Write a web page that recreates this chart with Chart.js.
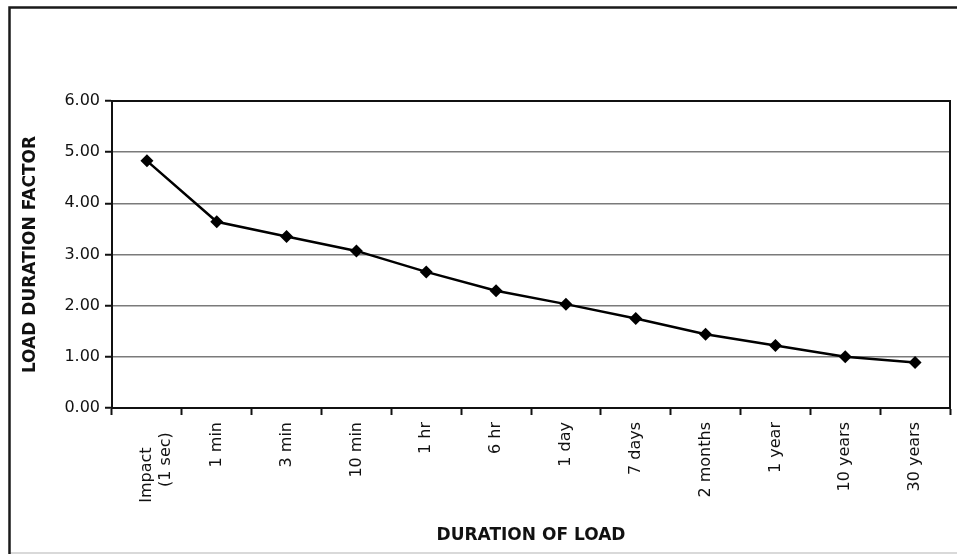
<!DOCTYPE html>
<html>
<head>
<meta charset="utf-8">
<script src="https://cdn.jsdelivr.net/npm/chart.js@4"></script>
<style>
  html, body { margin: 0; padding: 0; background: #fff; }
  #wrap { position: relative; width: 957px; height: 554px; }
</style>
</head>
<body>
<div id="wrap"><canvas id="chart" width="957" height="554"></canvas></div>
<script>
// Dati
const durations = [['Impact     ', '(1 sec)  '], '1 min', '3 min', '10 min', '1 hr', '6 hr', '1 day', '7 days', '2 months', '1 year', '10 years', '30 years'];
const loadFactors = [4.83, 3.64, 3.35, 3.07, 2.66, 2.29, 2.03, 1.75, 1.44, 1.22, 1.00, 0.89];
const yTicks = [0, 1, 2, 3, 4, 5, 6];

const FONT = 'DejaVu Sans';

// Cornice esterna e bordo dell'area del grafico
const framePlugin = {
  id: 'frame',
  beforeDraw(chart) {
    const ctx = chart.ctx;
    ctx.save();
    ctx.strokeStyle = '#d9d9d9';
    ctx.lineWidth = 2;
    ctx.beginPath();
    ctx.moveTo(9, 553);
    ctx.lineTo(957, 553);
    ctx.stroke();
    ctx.strokeStyle = '#1a1a1a';
    ctx.lineWidth = 2.5;
    ctx.beginPath();
    ctx.moveTo(9.5, 554);
    ctx.lineTo(9.5, 7.5);
    ctx.lineTo(957, 7.5);
    ctx.stroke();
    ctx.restore();
  },
  afterDatasetsDraw(chart) {
    const a = chart.chartArea;
    const ctx = chart.ctx;
    ctx.save();
    ctx.strokeStyle = '#111';
    ctx.lineWidth = 2;
    ctx.beginPath();
    ctx.moveTo(a.left, a.top);
    ctx.lineTo(a.right, a.top);
    ctx.lineTo(a.right, a.bottom);
    ctx.stroke();
    ctx.restore();
  }
};

new Chart(document.getElementById('chart'), {
  type: 'line',
  data: {
    labels: durations,
    datasets: [{
      data: loadFactors,
      borderColor: '#000',
      borderWidth: 2.5,
      backgroundColor: '#000',
      pointStyle: 'rectRot',
      pointRadius: 6.5,
      pointBorderWidth: 0,
      tension: 0,
      fill: false
    }]
  },
  options: {
    responsive: false,
    animation: false,
    layout: { padding: { left: 20, top: 101, right: 7, bottom: 8 } },
    plugins: {
      legend: { display: false },
      tooltip: { enabled: false }
    },
    scales: {
      x: {
        type: 'category',
        offset: true,
        grid: {
          offset: true,
          drawOnChartArea: false,
          drawTicks: true,
          tickLength: 7,
          tickColor: '#111',
          tickWidth: 2
        },
        border: { color: '#111', width: 2 },
        ticks: {
          color: '#111',
          font: { family: FONT, size: 16 },
          minRotation: 90,
          maxRotation: 90,
          autoSkip: false,
          padding: 7
        },
        title: {
          display: true,
          text: 'DURATION OF LOAD',
          color: '#111',
          font: { family: FONT, size: 17, weight: 'bold' },
          padding: 0
        },
        afterFit(scale) { scale.height = 138; }
      },
      y: {
        min: 0,
        max: 6,
        afterBuildTicks(scale) { scale.ticks = yTicks.map(v => ({ value: v })); },
        grid: {
          color: '#7a7a7a',
          lineWidth: 1.5,
          tickLength: 7,
          tickColor: '#111',
          tickWidth: 2
        },
        border: { color: '#111', width: 2 },
        ticks: {
          color: '#111',
          font: { family: FONT, size: 16 },
          padding: 5,
          callback: v => v.toFixed(2)
        },
        title: {
          display: true,
          text: 'LOAD DURATION FACTOR',
          color: '#111',
          font: { family: FONT, size: 17, weight: 'bold' },
          padding: 0
        },
        afterFit(scale) { scale.width = 92; }
      }
    }
  },
  plugins: [framePlugin]
});
</script>
</body>
</html>
